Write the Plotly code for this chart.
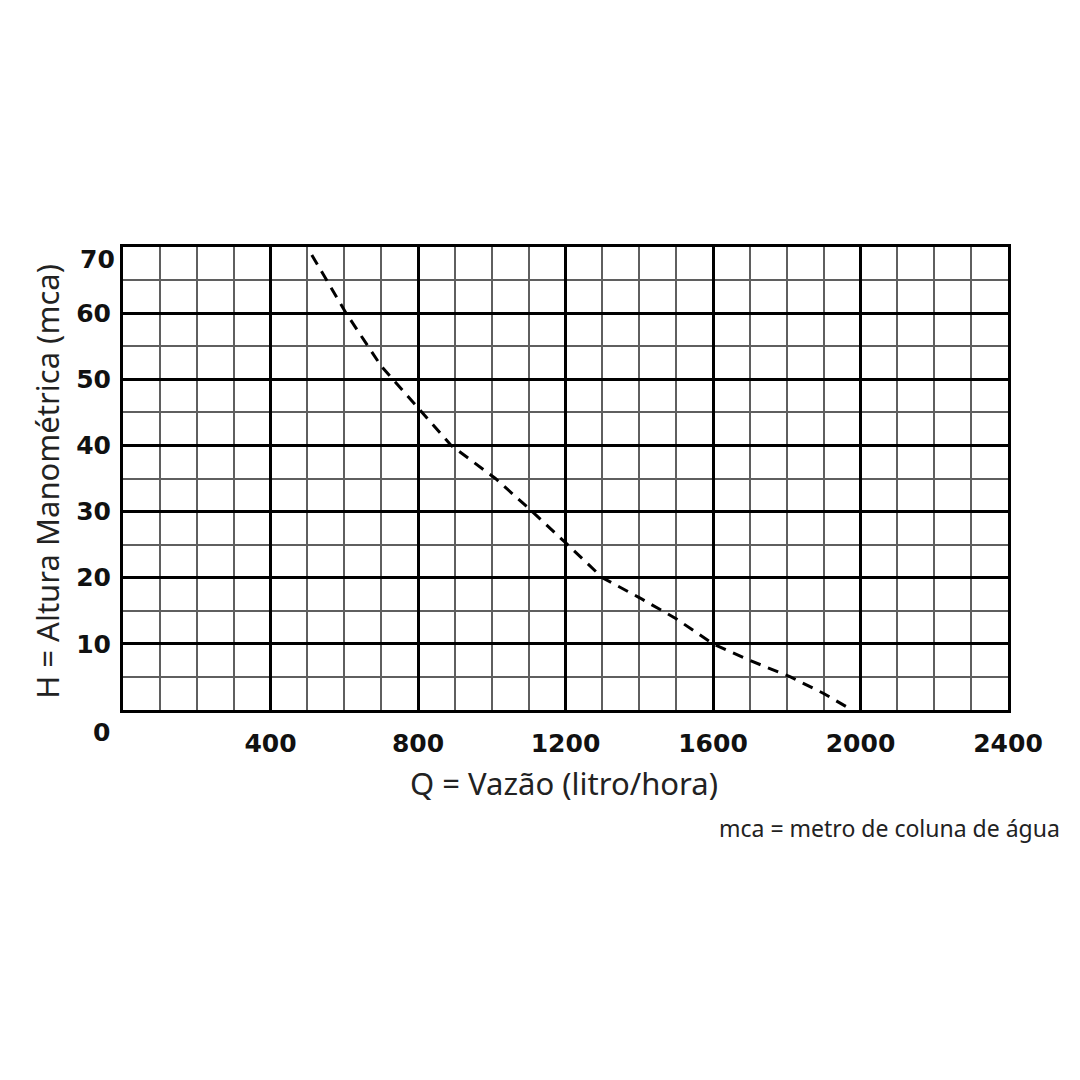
import plotly.graph_objects as go

# Pump curve data (Q in litro/hora, H in mca)
vazao = [512, 605, 700, 800, 890, 1010, 1110, 1200, 1300, 1400, 1500, 1600, 1700, 1810, 1900, 1968]
altura = [68.8, 60, 52, 45.6, 40, 35, 30, 25.3, 20, 17, 13.8, 10, 7.5, 5, 2.5, 0.3]

x_ticks = [400, 800, 1200, 1600, 2000, 2400]
y_ticks = [10, 20, 30, 40, 50, 60]

fig = go.Figure()
fig.add_trace(go.Scatter(
    x=vazao, y=altura, mode="lines",
    line=dict(color="black", width=3, dash="11px,8px"),
    showlegend=False, hoverinfo="skip",
))

tick_font = dict(family="DejaVu Sans, Arial, sans-serif", size=25, color="#111")
title_font_x = dict(family="Noto Sans, Open Sans, sans-serif", size=31, color="#222")
title_font_y = dict(family="Noto Sans, Open Sans, sans-serif", size=31, color="#222")

fig.update_layout(
    width=1080, height=1080,
    paper_bgcolor="white", plot_bgcolor="white",
    margin=dict(l=115, r=80, t=239, b=378),
    xaxis=dict(
        range=[0, 2400], tickvals=x_ticks, ticktext=[f"<b>{v}</b>" for v in x_ticks],
        showgrid=True, gridcolor="black", gridwidth=3,
        minor=dict(dtick=100, showgrid=True, gridcolor="#5f5f5f", gridwidth=2),
        showline=True, linecolor="black", linewidth=3, mirror=True,
        ticks="", tickfont=tick_font, ticklabelstandoff=9,
        zeroline=False, fixedrange=True,
    ),
    yaxis=dict(
        range=[0, 70], tickvals=y_ticks, ticktext=[f"<b>{v}</b>" for v in y_ticks],
        showgrid=True, gridcolor="black", gridwidth=3,
        minor=dict(dtick=5, showgrid=True, gridcolor="#5f5f5f", gridwidth=2),
        showline=True, linecolor="black", linewidth=3, mirror=True,
        ticks="", tickfont=tick_font, ticklabelstandoff=4,
        zeroline=False, fixedrange=True,
    ),
    annotations=[
        dict(text="<b>70</b>", x=0, y=70, xref="x", yref="y", xanchor="right", yanchor="middle",
             xshift=-6, yshift=-12, showarrow=False, font=tick_font),
        dict(text="<b>0</b>", x=0, y=0, xref="x", yref="y", xanchor="center", yanchor="middle",
             xshift=-22, yshift=-22, showarrow=False, font=tick_font),
        dict(text="Q = Vazão (litro/hora)", x=0.498, y=-0.158, xref="paper", yref="paper",
             xanchor="center", yanchor="middle", showarrow=False, font=title_font_x),
        dict(text="H = Altura Manométrica (mca)", x=-0.086, y=0.495, xref="paper", yref="paper",
             xanchor="center", yanchor="middle", textangle=-90, showarrow=False, font=title_font_y),
        dict(text="mca = metro de coluna de água", x=1.061, y=-0.254, xref="paper", yref="paper",
             xanchor="right", yanchor="middle", showarrow=False,
             font=dict(family="Noto Sans, Open Sans, sans-serif", size=23, color="#222")),
    ],
)

fig.write_html("out.html")
